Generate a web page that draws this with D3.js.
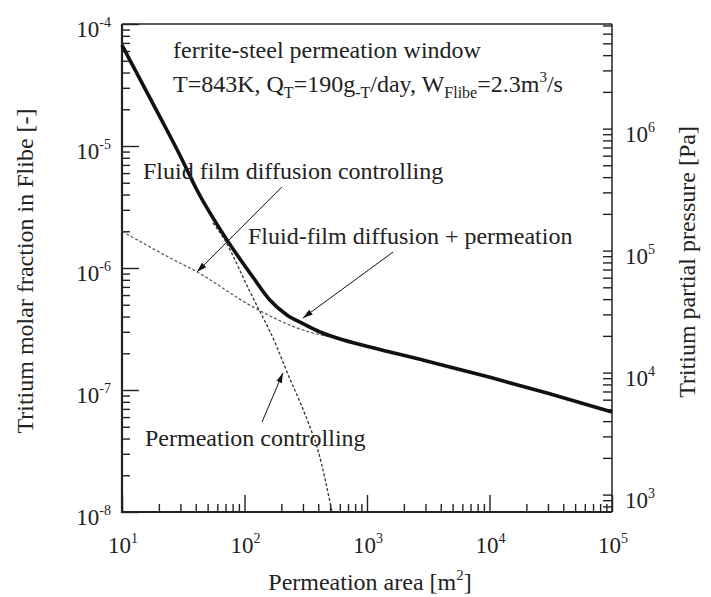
<!DOCTYPE html>
<html><head><meta charset="utf-8">
<script src="https://cdn.jsdelivr.net/npm/d3@7"></script>
<style>
body{margin:0;background:#fff}
svg{display:block}
text{font-family:"Liberation Serif","Times New Roman",serif;fill:#222}
</style>
</head><body><svg id="c" width="711" height="597"></svg>
<script>
// ---- data ----
const xTickValues = [1e1, 1e2, 1e3, 1e4, 1e5];
const xTickExponents = ["1", "2", "3", "4", "5"];
const yLeftTickValues = [1e-4, 1e-5, 1e-6, 1e-7, 1e-8];
const yLeftTickExponents = ["-4", "-5", "-6", "-7", "-8"];
const yRightTickValues = [1e6, 1e5, 1e4, 1e3];
const yRightTickExponents = ["6", "5", "4", "3"];

// Fluid-film diffusion + permeation (total)
const totalArea     = [10, 20, 29.7, 40.9, 71.9, 117, 161, 222, 300, 413, 569, 1057, 3000, 10090, 30000, 100000];
const totalFraction = [6.7e-5, 1.8e-5, 8.4e-6, 4.36e-6, 1.70e-6, 8.43e-7, 5.47e-7, 4.12e-7, 3.50e-7, 2.99e-7, 2.67e-7, 2.25e-7, 1.74e-7, 1.27e-7, 9.4e-8, 6.6e-8];
// Fluid film diffusion controlling
const filmArea     = [10, 24.7, 40.9, 117, 300, 499];
const filmFraction = [2.0e-6, 1.21e-6, 9.3e-7, 4.8e-7, 3.1e-7, 2.72e-7];
// Permeation controlling
const permArea     = [55.3, 66.7, 111, 184, 222, 330, 398, 518];
const permFraction = [2.34e-6, 1.79e-6, 6.35e-7, 2.25e-7, 1.41e-7, 5.47e-8, 3.2e-8, 1.0e-8];

const annotationTexts = ["Fluid film diffusion controlling", "Fluid-film diffusion + permeation", "Permeation controlling"];
// arrows: [fromArea, fromFrac, toArea, toFrac]
const arrowFilm = [202, 4.62e-6, 40.9, 9.27e-7];
const arrowTotal = [1630, 1.35e-6, 300, 3.89e-7];
const arrowPerm = [139, 5.47e-8, 206, 1.38e-7];

// ---- layout ----
const svg = d3.select("#c");
const L = 122, R = 612, T = 24, B = 512;
const x = d3.scaleLog().domain([1e1, 1e5]).range([L, R]);
const yL = d3.scaleLog().domain([1e-8, 1e-4]).range([B, T]);
const yR = d3.scaleLog().domain([7.2e2, 7.2e6]).range([B, T]);

const defs = svg.append("defs");
defs.append("marker").attr("id", "ah").attr("viewBox", "0 0 10 6")
  .attr("refX", 10).attr("refY", 3).attr("markerWidth", 10).attr("markerHeight", 6)
  .attr("markerUnits", "userSpaceOnUse").attr("orient", "auto")
  .append("path").attr("d", "M0,0 L10,3 L0,6 Z").attr("fill", "#111");

// axes ticks
const isMajor = v => Math.abs(Math.log10(v) - Math.round(Math.log10(v))) < 1e-6;
const xAll = x.ticks();
const yLAll = yL.ticks();
const yRAll = yR.ticks();

function styleAxis(g) {
  g.select(".domain").remove();
  g.selectAll(".tick text").remove();
  g.selectAll(".tick line").attr("stroke", "#222").attr("stroke-width", 1.4);
}
svg.append("g").attr("transform", `translate(0,${B})`)
  .call(d3.axisTop(x).tickValues(xAll.filter(isMajor)).tickSize(17)).call(styleAxis);
svg.append("g").attr("transform", `translate(0,${B})`)
  .call(d3.axisTop(x).tickValues(xAll.filter(v => !isMajor(v))).tickSize(8)).call(styleAxis);
svg.append("g").attr("transform", `translate(${L},0)`)
  .call(d3.axisRight(yL).tickValues(yLAll.filter(isMajor)).tickSize(17)).call(styleAxis);
svg.append("g").attr("transform", `translate(${L},0)`)
  .call(d3.axisRight(yL).tickValues(yLAll.filter(v => !isMajor(v))).tickSize(8)).call(styleAxis);
svg.append("g").attr("transform", `translate(${R},0)`)
  .call(d3.axisLeft(yR).tickValues(yRAll).tickSize(9)).call(styleAxis);

// frame
svg.append("line").attr("x1", L).attr("x2", R).attr("y1", T).attr("y2", T).attr("stroke", "#222").attr("stroke-width", 1.5);
svg.append("line").attr("x1", R).attr("x2", R).attr("y1", T).attr("y2", B).attr("stroke", "#222").attr("stroke-width", 1.5);
svg.append("line").attr("x1", L).attr("x2", L).attr("y1", T).attr("y2", B + 1).attr("stroke", "#222").attr("stroke-width", 2.2);
svg.append("line").attr("x1", L - 1).attr("x2", R).attr("y1", B).attr("y2", B).attr("stroke", "#222").attr("stroke-width", 2.2);

// tick labels
function pow10(xp, yp, exp, anchor) {
  const t = svg.append("text").attr("x", xp).attr("y", yp).attr("text-anchor", anchor).style("font-size", "23px");
  t.append("tspan").text("10");
  t.append("tspan").attr("dy", -10).style("font-size", "14px").text(exp);
}
xTickValues.forEach((v, i) => pow10(x(v) + 1, 553, xTickExponents[i], "middle"));
yLeftTickValues.forEach((v, i) => pow10(111, yL(v) + 13, yLeftTickExponents[i], "end"));
yRightTickValues.forEach((v, i) => pow10(625, yR(v) + 13, yRightTickExponents[i], "start"));

// axis titles
const xt = svg.append("text").attr("x", 370).attr("y", 590).attr("text-anchor", "middle").style("font-size", "24px");
xt.append("tspan").text("Permeation area [m");
xt.append("tspan").attr("dy", -10).style("font-size", "15px").text("2");
xt.append("tspan").attr("dy", 10).text("]");
svg.append("text").attr("transform", "translate(33,271) rotate(-90)").attr("text-anchor", "middle")
  .style("font-size", "24px").text("Tritium molar fraction in Flibe [-]");
svg.append("text").attr("transform", "translate(695,262) rotate(-90)").attr("text-anchor", "middle")
  .style("font-size", "24px").text("Tritium partial pressure [Pa]");

// curves
const line = d3.line().x(d => x(d[0])).y(d => yL(d[1])).curve(d3.curveMonotoneX);
const z = (a, b) => a.map((v, i) => [v, b[i]]);
svg.append("path").attr("d", line(z(filmArea, filmFraction))).attr("fill", "none")
  .attr("stroke", "#555").attr("stroke-width", 1.2).attr("stroke-dasharray", "3,2");
svg.append("path").attr("d", line(z(permArea, permFraction))).attr("fill", "none")
  .attr("stroke", "#333").attr("stroke-width", 1.3).attr("stroke-dasharray", "3,2");
svg.append("path").attr("d", line(z(totalArea, totalFraction))).attr("fill", "none")
  .attr("stroke", "#111").attr("stroke-width", 3.6).attr("stroke-linejoin", "round");

// arrows
[arrowFilm, arrowTotal, arrowPerm].forEach(a => {
  svg.append("line").attr("x1", x(a[0])).attr("y1", yL(a[1])).attr("x2", x(a[2])).attr("y2", yL(a[3]))
    .attr("stroke", "#111").attr("stroke-width", 1).attr("marker-end", "url(#ah)");
});

// annotations
svg.append("text").attr("x", 173).attr("y", 58).style("font-size", "24px").text("ferrite-steel permeation window");
const t2 = svg.append("text").attr("x", 173).attr("y", 92).style("font-size", "24px");
t2.append("tspan").text("T=843K, Q");
t2.append("tspan").attr("dy", 6).style("font-size", "16px").text("T");
t2.append("tspan").attr("dy", -6).text("=190g");
t2.append("tspan").attr("dy", 6).style("font-size", "16px").text("-T");
t2.append("tspan").attr("dy", -6).text("/day, W");
t2.append("tspan").attr("dy", 6).style("font-size", "16px").text("Flibe");
t2.append("tspan").attr("dy", -6).text("=2.3m");
t2.append("tspan").attr("dy", -10).style("font-size", "15px").text("3");
t2.append("tspan").attr("dy", 10).text("/s");

svg.append("text").attr("x", 143).attr("y", 179).style("font-size", "24px").text(annotationTexts[0]);
svg.append("text").attr("x", 248).attr("y", 244).style("font-size", "24px").text(annotationTexts[1]);
svg.append("text").attr("x", 145).attr("y", 446).style("font-size", "24px").text(annotationTexts[2]);
</script>
</body></html>
